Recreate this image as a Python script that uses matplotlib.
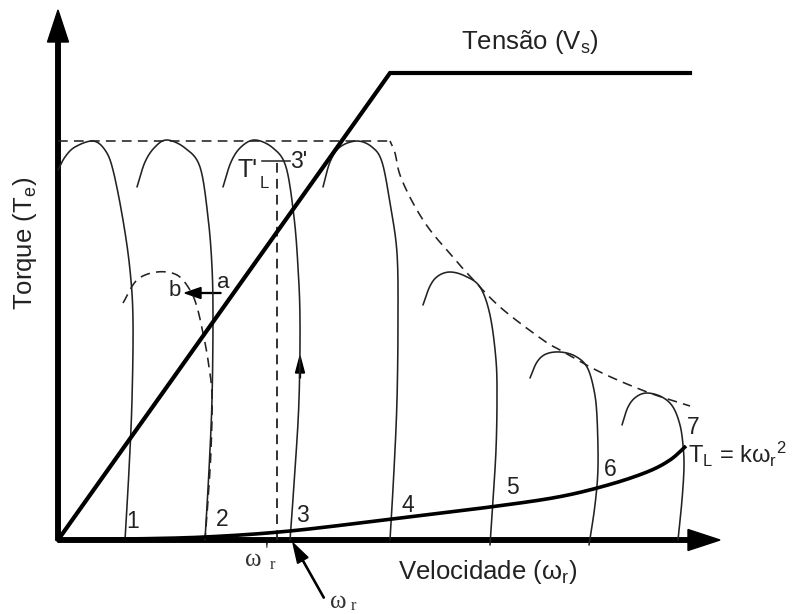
import numpy as np
import matplotlib
matplotlib.use("Agg")
import matplotlib.pyplot as plt

# ---------------- data (speed x, torque y; schematic units) ----------------
curve1_x = [0, 7, 17, 35, 47, 55, 65, 72, 75, 74, 71, 67]
curve1_y = [370, 383, 393, 399, 390, 370, 320, 270, 220, 140, 70, 0]
curve2_x = [79, 87, 97, 109, 127, 142, 150, 154, 155, 154, 151, 147]
curve2_y = [353, 378, 393, 400, 392, 373, 323, 273, 220, 140, 70, 0]
curve3_x = [165, 173, 183, 197, 215, 228, 236, 240, 242, 241, 237, 232]
curve3_y = [353, 378, 393, 400, 392, 373, 323, 273, 220, 140, 70, 0]
curve4_x = [265, 272, 282, 299, 314, 324, 332, 339, 340, 339, 336, 332]
curve4_y = [353, 378, 393, 399, 393, 378, 337, 287, 220, 140, 70, 0]
curve5_x = [365, 372, 380, 392, 407, 422, 432, 438, 439, 438, 435, 432]
curve5_y = [235, 254, 264, 268, 264, 253, 225, 180, 140, 90, 40, -5]
curve6_x = [472, 479, 488, 502, 517, 529, 536, 539, 540, 537, 531]
curve6_y = [162, 178, 186, 188, 184, 173, 150, 123, 73, 35, -5]
curve7_x = [564, 570, 578, 589, 604, 615, 622, 625, 626, 624, 620]
curve7_y = [115, 133, 143, 147, 143, 133, 115, 95, 73, 40, 0]

curve_b_x = [65, 79, 99, 119, 132, 139, 145, 150, 154, 153, 150, 147]
curve_b_y = [237, 260, 268, 265, 250, 233, 207, 180, 145, 90, 40, 0]

envelope_x = [0, 332, 337, 342, 355, 372, 395, 409, 442, 485, 502, 542, 589, 632]
envelope_y = [399, 399, 387, 365, 337, 310, 283, 267, 233, 200, 190, 168, 148, 134]

voltage_x = [0, 332, 632]
voltage_y = [0, 467, 467]

load_x = [0, 70, 147, 232, 342, 432, 500, 550, 589, 612, 628]
load_y = [0, 1, 3, 9, 22, 33, 43, 55, 68, 80, 94]

wr_prime = 219       # ω'_r position
TL_prime = 379       # T'_L level

point_labels = ["1", "2", "3", "4", "5", "6", "7"]
point_lx = [75, 164, 244, 350, 454, 552, 635]
point_ly = [18, 20, 25, 35, 52, 70, 112]

# ---------------- helpers ----------------
def smooth(xs, ys, n=16):
    p = np.column_stack([xs, ys]).astype(float)
    p = np.vstack([2 * p[0] - p[1], p, 2 * p[-1] - p[-2]])
    out = []
    for i in range(1, len(p) - 2):
        p0, p1, p2, p3 = p[i - 1], p[i], p[i + 1], p[i + 2]
        t = np.linspace(0, 1, n, endpoint=False)[:, None]
        seg = 0.5 * ((2 * p1) + (-p0 + p2) * t + (2 * p0 - 5 * p1 + 4 * p2 - p3) * t ** 2
                     + (-p0 + 3 * p1 - 3 * p2 + p3) * t ** 3)
        out.append(seg)
    out.append(p[-2][None, :])
    out = np.vstack(out)
    return out[:, 0], out[:, 1]

plt.rcParams['font.family'] = ['Liberation Sans', 'DejaVu Sans']
plt.rcParams['mathtext.fontset'] = 'custom'
plt.rcParams['mathtext.rm'] = 'Liberation Sans'
plt.rcParams['mathtext.it'] = 'Liberation Sans'
plt.rcParams['lines.scale_dashes'] = False

fig = plt.figure(figsize=(7.93, 6.14), dpi=100)
ax = fig.add_axes([0, 0, 1, 1])
ax.set_xlim(-58, 735)
ax.set_ylim(-74, 540)
ax.axis('off')

thin = dict(color='#222222', lw=1.15, solid_capstyle='round')
for cx, cy in [(curve1_x, curve1_y), (curve2_x, curve2_y), (curve3_x, curve3_y),
               (curve4_x, curve4_y), (curve5_x, curve5_y), (curve6_x, curve6_y),
               (curve7_x, curve7_y)]:
    sx, sy = smooth(cx, cy)
    ax.plot(sx, sy, **thin)

sx, sy = smooth(curve_b_x, curve_b_y)
ax.plot(sx, sy, color='#222222', lw=1.15, linestyle=(0, (7, 4.5)))

ax.plot(envelope_x[:2], envelope_y[:2], color='#222222', lw=1.15, linestyle=(0, (7, 4.5)))
sx, sy = smooth(envelope_x[1:], envelope_y[1:])
ax.plot(sx, sy, color='#222222', lw=1.15, linestyle=(3, (7, 4.5)))

# ω'_r vertical dashed and T'_L tick
ax.plot([wr_prime, wr_prime], [0, TL_prime], color='#222222', lw=1.3, linestyle=(0, (7, 4.5)))
ax.plot([wr_prime - 15, wr_prime + 13], [TL_prime, TL_prime], color='#222222', lw=1.1)

# voltage and load
ax.plot(voltage_x, voltage_y, color='black', lw=3.0, solid_joinstyle='miter')
sx, sy = smooth(load_x, load_y)
ax.plot(sx, sy, color='black', lw=2.6, solid_capstyle='butt')

# axes with arrows
ax.arrow(0, 0, 0, 530, width=4.5, head_width=21, head_length=32,
         length_includes_head=True, color='black')
ax.arrow(0, 0, 662, 0, width=4.5, head_width=21, head_length=32,
         length_includes_head=True, color='black')

# small arrows
ax.arrow(163, 247, -36, 0, width=0.9, head_width=11, head_length=16,
         length_includes_head=True, color='black')
ax.arrow(242, 162, 0, 22, width=0.9, head_width=9, head_length=17,
         length_includes_head=True, color='black')
ax.arrow(266, -58, -31, 55, width=1.2, head_width=12, head_length=20,
         length_includes_head=True, color='black')

# texts
fs_num = 16.5
for lab, lx, ly in zip(point_labels, point_lx, point_ly):
    ax.text(lx, ly, lab, fontsize=fs_num, ha='center', va='center', color='#222222')

ax.text(630, 86, r'T$_\mathregular{L}$ = k$\mathregular{\omega}_\mathregular{r}$$^\mathregular{2}$',
        fontsize=17, ha='left', va='center', color='#222222')
ax.text(189, 370, "T'", fontsize=18, ha='center', va='center', color='#222222')
ax.text(206, 357, "L", fontsize=12, ha='center', va='center', color='#222222')
ax.text(241, 378, "3'", fontsize=16.5, ha='center', va='center', color='#222222')
ax.text(165, 258, "a", fontsize=16, ha='center', va='center', color='#222222')
ax.text(117, 250, "b", fontsize=16, ha='center', va='center', color='#222222')

serif = ['Liberation Serif', 'DejaVu Serif']
ax.text(195, -20, "ω", fontsize=18, ha='center', va='center', color='#333333', family=serif)
ax.text(208, -12, "'", fontsize=15, ha='center', va='center', color='#333333', family=serif)
ax.text(214, -25, "r", fontsize=12, ha='center', va='center', color='#333333', family=serif)
ax.text(280, -62, "ω", fontsize=18, ha='center', va='center', color='#333333', family=serif)
ax.text(295, -66, "r", fontsize=12, ha='center', va='center', color='#333333', family=serif)

ax.text(430, -32, r'Velocidade ($\mathregular{\omega_r}$)', fontsize=18.5,
        ha='center', va='center', color='#222222')
ax.text(472, 498, r'Tensão (V$_\mathregular{s}$)', fontsize=18.5,
        ha='center', va='center', color='#222222')
ax.text(-33, 297, r'Torque (T$_\mathregular{e}$)', fontsize=18.5, rotation=90,
        ha='center', va='center', color='#222222')

fig.savefig('out.png', dpi=100)
